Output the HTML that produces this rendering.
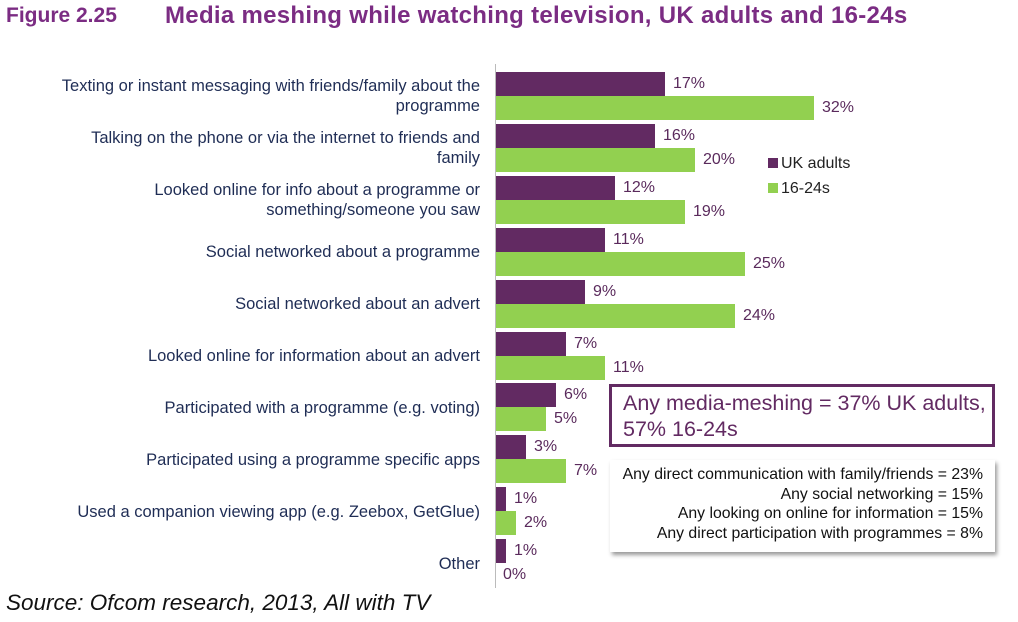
<!DOCTYPE html>
<html><head><meta charset="utf-8"><style>
body{margin:0;width:1018px;height:622px;background:#fff;font-family:"Liberation Sans",sans-serif;position:relative;overflow:hidden}
.t{position:absolute;left:6px;top:4px;font-size:21px;font-weight:bold;color:#7b2c83;white-space:pre}
.t2{position:absolute;left:165px;top:2px;font-size:24px;font-weight:bold;color:#7b2c83;white-space:pre;letter-spacing:0.3px}
.lab{position:absolute;right:538px;width:480px;text-align:right;font-size:16.5px;color:#1f2d55;line-height:20px}
.b{position:absolute;left:496px;height:24px}
.p{background:#622a62}.g{background:#92d050}
.v{position:absolute;font-size:16px;color:#5a2a5c}
.ax{position:absolute;left:495px;top:64px;width:1px;height:524px;background:#bbb}
.src{position:absolute;left:6px;top:590px;font-size:22.5px;font-style:italic;color:#111}
.box1{position:absolute;left:609px;top:384px;width:369px;height:57px;border:3px solid #622a62;font-size:21.5px;color:#622a62;padding:0 0 0 11px;line-height:26px}
.box2{position:absolute;left:610px;top:460px;width:385px;height:92px;background:#fff;box-shadow:2px 3px 4px #999;font-size:15.8px;color:#111;text-align:right;line-height:19.5px;box-sizing:border-box;padding:5px 12px 0 0;white-space:nowrap}
.leg{position:absolute;left:768px;font-size:16px;color:#222}
.leg i{display:inline-block;width:10px;height:10px;margin-right:3px}
</style></head><body>
<div class="t">Figure 2.25</div>
<div class="t2">Media meshing while watching television, UK adults and 16-24s</div>
<div class="ax"></div>
<div class="lab" style="top:76px">Texting or instant messaging with friends/family about the<br>programme</div>
<div class="lab" style="top:128px">Talking on the phone or via the internet to friends and<br>family</div>
<div class="lab" style="top:180px">Looked online for info about a programme  or<br>something/someone you saw</div>
<div class="lab" style="top:242px">Social networked about a programme</div>
<div class="lab" style="top:294px">Social networked about an advert</div>
<div class="lab" style="top:346px">Looked online for information about an advert</div>
<div class="lab" style="top:398px">Participated with a programme (e.g. voting)</div>
<div class="lab" style="top:450px">Participated using a programme specific apps</div>
<div class="lab" style="top:502px">Used a companion viewing app  (e.g. Zeebox, GetGlue)</div>
<div class="lab" style="top:554px">Other</div>

<div class="b p" style="top:72px;width:169px"></div><div class="v" style="left:673px;top:75px">17%</div>
<div class="b g" style="top:96px;width:318px"></div><div class="v" style="left:822px;top:99px">32%</div>
<div class="b p" style="top:124px;width:159px"></div><div class="v" style="left:663px;top:127px">16%</div>
<div class="b g" style="top:148px;width:199px"></div><div class="v" style="left:703px;top:151px">20%</div>
<div class="b p" style="top:176px;width:119px"></div><div class="v" style="left:623px;top:179px">12%</div>
<div class="b g" style="top:200px;width:189px"></div><div class="v" style="left:693px;top:203px">19%</div>
<div class="b p" style="top:228px;width:109px"></div><div class="v" style="left:613px;top:231px">11%</div>
<div class="b g" style="top:252px;width:249px"></div><div class="v" style="left:753px;top:255px">25%</div>
<div class="b p" style="top:280px;width:89px"></div><div class="v" style="left:593px;top:283px">9%</div>
<div class="b g" style="top:304px;width:239px"></div><div class="v" style="left:743px;top:307px">24%</div>
<div class="b p" style="top:332px;width:70px"></div><div class="v" style="left:574px;top:335px">7%</div>
<div class="b g" style="top:356px;width:109px"></div><div class="v" style="left:613px;top:359px">11%</div>
<div class="b p" style="top:383px;width:60px"></div><div class="v" style="left:564px;top:386px">6%</div>
<div class="b g" style="top:407px;width:50px"></div><div class="v" style="left:554px;top:410px">5%</div>
<div class="b p" style="top:435px;width:30px"></div><div class="v" style="left:534px;top:438px">3%</div>
<div class="b g" style="top:459px;width:70px"></div><div class="v" style="left:574px;top:462px">7%</div>
<div class="b p" style="top:487px;width:10px"></div><div class="v" style="left:514px;top:490px">1%</div>
<div class="b g" style="top:511px;width:20px"></div><div class="v" style="left:524px;top:514px">2%</div>
<div class="b p" style="top:539px;width:10px"></div><div class="v" style="left:514px;top:542px">1%</div>
<div class="v" style="left:503px;top:566px">0%</div>

<div class="leg" style="top:155px"><i style="background:#622a62"></i>UK adults</div>
<div class="leg" style="top:180px"><i style="background:#92d050"></i>16-24s</div>

<div class="box1"><div style="padding-top:3px">Any media-meshing = 37% UK adults,<br>57% 16-24s</div></div>
<div class="box2">Any direct communication with family/friends = 23%<br>Any social networking = 15%<br>Any looking on online for information = 15%<br>Any direct participation with programmes  = 8%</div>
<div class="src">Source: Ofcom research, 2013, All with TV</div>
</body></html>
